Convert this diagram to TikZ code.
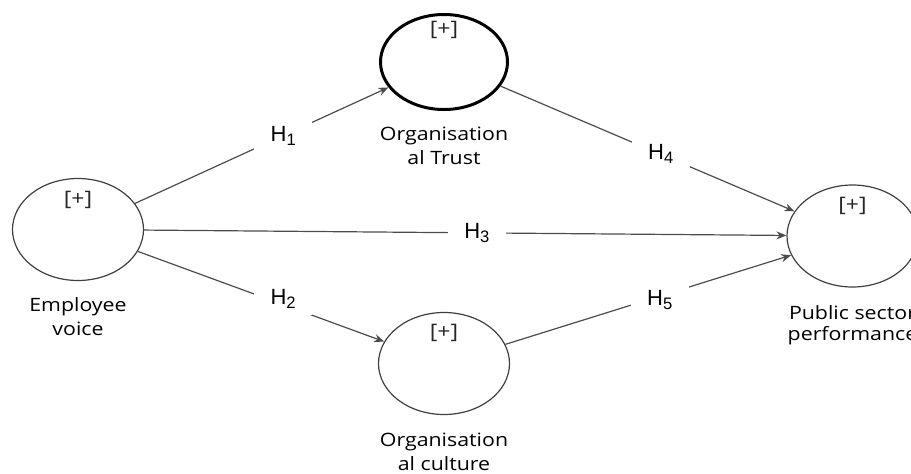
\documentclass[tikz,border=0pt]{standalone}
\usepackage{fontspec}
\setmainfont{Open Sans}
\newfontfamily\hfont{Liberation Sans}
\usetikzlibrary{positioning,shapes.geometric,arrows.meta}

\newcommand{\hsub}[1]{H\raisebox{-0.35ex}{\fontsize{8.3}{9}\selectfont #1}}

\tikzset{
    construct/.style={ellipse, draw=black!75, line width=0.6pt, minimum width=65.5pt, minimum height=51pt, inner sep=0pt},
    plus/.style={font=\fontsize{10}{12}\selectfont, text=black!85, xscale=1.15, inner sep=0pt},
    cname/.style={font=\fontsize{9.2}{12}\selectfont, text=black, align=center, xscale=1.16, inner sep=0pt},
    link/.style={draw=black!70, line width=0.6pt, -{Stealth[length=5pt,width=4pt]}},
    hyp/.style={font=\hfont\fontsize{11}{13}\selectfont, fill=white, minimum width=29pt, minimum height=16pt, inner sep=0pt},
}

\begin{document}
\begin{tikzpicture}[x=0.5pt, y=-0.5pt]
        \useasboundingbox (0,0) rectangle (911,473);
        \clip (0,0) rectangle (911,473);

        \node[construct] (ev) at (78,229.5) {};
        \node[construct, draw=black, line width=1.5pt, minimum width=63.5pt, minimum height=47.5pt] (ot) at (444,62) {};
        \node[construct] (oc) at (444,363.5) {};
        \node[construct] (psp) at (852.5,236) {};

        \node[plus] (evplus) at ([yshift=-11pt]ev.north) {[+]};
        \node[plus] (otplus) at ([yshift=-8.5pt]ot.north) {[+]};
        \node[plus] (ocplus) at ([yshift=-10.5pt]oc.north) {[+]};
        \node[plus] (pspplus) at ([yshift=-11pt]psp.north) {[+]};

        \node[cname, below=8pt of ev] (evname) {Employee\\voice};
        \node[cname, below=8pt of ot] (otname) {Organisation\\al Trust};
        \node[cname, below=8.5pt of oc] (ocname) {Organisation\\al culture};
        \node[cname, below=9pt of psp, font=\fontsize{9.2}{10.5}\selectfont] (pspname) {Public sector\\performance};

        % hypotheses
        \draw[link] (ev) -- node[hyp, pos=0.585] (h1) {\hsub{1}} (ot);
        \draw[link] (ev) -- node[hyp, pos=0.59, yshift=3pt] (h2) {\hsub{2}} (oc);
        \draw[link] (ev) -- node[hyp, pos=0.518] (h3) {\hsub{3}} (psp);
        \draw[link] (ot) -- node[hyp, pos=0.545] (h4) {\hsub{4}} (psp);
        \draw[link] (oc) -- node[hyp, pos=0.54, yshift=-2pt] (h5) {\hsub{5}} (psp);
    \end{tikzpicture}
\end{document}
